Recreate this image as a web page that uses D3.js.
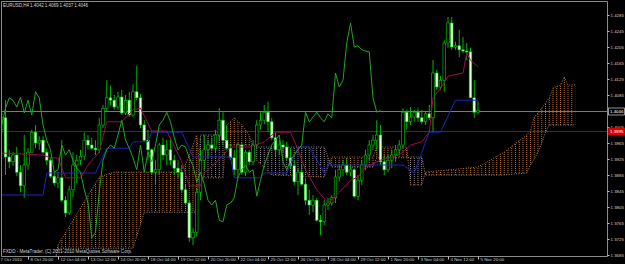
<!DOCTYPE html>
<html>
<head>
<meta charset="utf-8">
<script src="https://cdn.jsdelivr.net/npm/d3@7"></script>
<style>
  html, body { margin: 0; padding: 0; background: #000; }
  svg { display: block; }
  text { font-family: "Liberation Sans", Arial, sans-serif; }
</style>
</head>
<body>
<div id="chart"></div>
<script>
// EURUSD H4, 128 bars (index 0 .. 127)
const openP = [
  1.3998, 1.4028, 1.3930, 1.3918, 1.3935, 1.3892, 1.3858, 1.3910, 1.3942, 1.3992,
  1.3965, 1.3972, 1.3942, 1.3922, 1.3882, 1.3865, 1.3878, 1.3822, 1.3790, 1.3848,
  1.3910, 1.3922, 1.3932, 1.3972, 1.3960, 1.3952, 1.3948, 1.4010, 1.4052, 1.4078,
  1.4072, 1.4055, 1.4080, 1.4040, 1.4072, 1.4035, 1.4093, 1.4078, 1.4010, 1.3972,
  1.3948, 1.3892, 1.3898, 1.3960, 1.3935, 1.3948, 1.3922, 1.3902, 1.3892, 1.3848,
  1.3815, 1.3728, 1.3742, 1.3842, 1.3922, 1.3948, 1.3960, 1.3952, 1.3985, 1.4022,
  1.3972, 1.3952, 1.3928, 1.3898, 1.3960, 1.3892, 1.3942, 1.3918, 1.3960, 1.4010,
  1.4022, 1.4042, 1.4018, 1.3978, 1.3948, 1.3960, 1.3955, 1.3928, 1.3908, 1.3868,
  1.3892, 1.3862, 1.3822, 1.3810, 1.3822, 1.3772, 1.3768, 1.3810, 1.3815, 1.3828,
  1.3880, 1.3898, 1.3910, 1.3892, 1.3898, 1.3832, 1.3872, 1.3910, 1.3935, 1.3960,
  1.3972, 1.3985, 1.3918, 1.3898, 1.3922, 1.3935, 1.3948, 1.3960, 1.4042, 1.4018,
  1.4030, 1.4042, 1.4028, 1.4018, 1.4038, 1.4028, 1.4140, 1.4105, 1.4122, 1.4215,
  1.4265, 1.4205, 1.4208, 1.4198, 1.4195, 1.4193, 1.4078, 1.4042
];
const highP = [
  1.4042, 1.4072, 1.3948, 1.3942, 1.3955, 1.3910, 1.3985, 1.3952, 1.3998, 1.4010,
  1.3982, 1.3982, 1.3952, 1.3928, 1.3892, 1.3892, 1.3972, 1.3832, 1.3858, 1.3942,
  1.3935, 1.3948, 1.3992, 1.3985, 1.3978, 1.3972, 1.4028, 1.4060, 1.4122, 1.4108,
  1.4085, 1.4093, 1.4098, 1.4085, 1.4093, 1.4112, 1.4158, 1.4088, 1.4022, 1.3998,
  1.3952, 1.3922, 1.3965, 1.3978, 1.3972, 1.3978, 1.3935, 1.3922, 1.3910, 1.3860,
  1.3822, 1.3752, 1.3852, 1.3948, 1.3985, 1.3972, 1.3978, 1.3998, 1.4052, 1.4042,
  1.4010, 1.3960, 1.3948, 1.3965, 1.3965, 1.3948, 1.3948, 1.3972, 1.4022, 1.4042,
  1.4060, 1.4068, 1.4028, 1.3992, 1.3972, 1.3972, 1.3968, 1.3952, 1.3922, 1.3902,
  1.3910, 1.3878, 1.3848, 1.3835, 1.3828, 1.3785, 1.3822, 1.3828, 1.3835, 1.3898,
  1.3910, 1.3922, 1.3928, 1.3910, 1.3902, 1.3885, 1.3922, 1.3948, 1.3972, 1.3985,
  1.4022, 1.4010, 1.3935, 1.3935, 1.3948, 1.3960, 1.3972, 1.4052, 1.4048, 1.4055,
  1.4048, 1.4052, 1.4048, 1.4042, 1.4060, 1.4172, 1.4148, 1.4132, 1.4222, 1.4280,
  1.4280, 1.4218, 1.4248, 1.4230, 1.4215, 1.4203, 1.4122, 1.4069
];
const lowP = [
  1.3988, 1.3885, 1.3902, 1.3908, 1.3882, 1.3842, 1.3828, 1.3898, 1.3942, 1.3952,
  1.3948, 1.3938, 1.3910, 1.3878, 1.3858, 1.3852, 1.3818, 1.3780, 1.3785, 1.3830,
  1.3865, 1.3910, 1.3922, 1.3948, 1.3948, 1.3935, 1.3940, 1.4002, 1.4042, 1.4060,
  1.4048, 1.4048, 1.4035, 1.4035, 1.4030, 1.4030, 1.4072, 1.4002, 1.3968, 1.3922,
  1.3885, 1.3860, 1.3885, 1.3922, 1.3910, 1.3910, 1.3885, 1.3878, 1.3842, 1.3810,
  1.3718, 1.3710, 1.3732, 1.3822, 1.3898, 1.3928, 1.3948, 1.3942, 1.3972, 1.3960,
  1.3948, 1.3922, 1.3885, 1.3878, 1.3885, 1.3882, 1.3910, 1.3910, 1.3952, 1.3998,
  1.4012, 1.3992, 1.3972, 1.3932, 1.3935, 1.3942, 1.3922, 1.3902, 1.3860, 1.3835,
  1.3858, 1.3810, 1.3785, 1.3792, 1.3768, 1.3735, 1.3760, 1.3798, 1.3808, 1.3815,
  1.3868, 1.3882, 1.3885, 1.3882, 1.3828, 1.3822, 1.3860, 1.3898, 1.3922, 1.3948,
  1.3948, 1.3910, 1.3885, 1.3892, 1.3902, 1.3918, 1.3935, 1.3952, 1.3998, 1.4010,
  1.4018, 1.4018, 1.4012, 1.4010, 1.4022, 1.3992, 1.4098, 1.4098, 1.4093, 1.4203,
  1.4198, 1.4198, 1.4180, 1.4190, 1.4172, 1.4078, 1.4028, 1.4037
];
const closeP = [
  1.4028, 1.3930, 1.3918, 1.3935, 1.3892, 1.3858, 1.3910, 1.3942, 1.3992, 1.3965,
  1.3972, 1.3942, 1.3922, 1.3882, 1.3865, 1.3878, 1.3822, 1.3790, 1.3848, 1.3910,
  1.3922, 1.3932, 1.3972, 1.3960, 1.3952, 1.3948, 1.4010, 1.4052, 1.4078, 1.4072,
  1.4055, 1.4080, 1.4040, 1.4072, 1.4035, 1.4093, 1.4078, 1.4010, 1.3972, 1.3948,
  1.3892, 1.3898, 1.3960, 1.3935, 1.3948, 1.3922, 1.3902, 1.3892, 1.3848, 1.3815,
  1.3728, 1.3742, 1.3842, 1.3922, 1.3948, 1.3960, 1.3952, 1.3985, 1.4022, 1.3972,
  1.3952, 1.3928, 1.3898, 1.3960, 1.3892, 1.3942, 1.3918, 1.3960, 1.4010, 1.4022,
  1.4042, 1.4018, 1.3978, 1.3948, 1.3960, 1.3955, 1.3928, 1.3908, 1.3868, 1.3892,
  1.3862, 1.3822, 1.3810, 1.3822, 1.3772, 1.3768, 1.3810, 1.3815, 1.3828, 1.3880,
  1.3898, 1.3910, 1.3892, 1.3898, 1.3832, 1.3872, 1.3910, 1.3935, 1.3960, 1.3972,
  1.3985, 1.3918, 1.3898, 1.3922, 1.3935, 1.3948, 1.3960, 1.4042, 1.4018, 1.4030,
  1.4042, 1.4028, 1.4018, 1.4038, 1.4028, 1.4140, 1.4105, 1.4122, 1.4215, 1.4265,
  1.4205, 1.4208, 1.4198, 1.4195, 1.4193, 1.4078, 1.4042, 1.4046
];

// Ichimoku lines: [bar index, price]
const tenkan = [
  [0, 1.3940], [11, 1.3935], [13, 1.3928], [15, 1.3928], [17, 1.3878], [21, 1.3878],
  [23, 1.3910], [26, 1.3942], [28, 1.4018], [32, 1.4018], [35, 1.4048], [37, 1.4052],
  [40, 1.3995], [44, 1.3995], [48, 1.3918], [50, 1.3858], [53, 1.3858], [54, 1.3890],
  [57, 1.3915], [61, 1.3955], [66, 1.3955], [70, 1.3968], [73, 1.3992], [77, 1.3992],
  [79, 1.3948], [81, 1.3898], [84, 1.3848], [87, 1.3815], [90, 1.3842], [93, 1.3872],
  [95, 1.3880], [97, 1.3905], [101, 1.3922], [106, 1.3935], [109, 1.3960], [112, 1.3968],
  [114, 1.3992], [115, 1.4078], [117, 1.4102], [119, 1.4132], [123, 1.4140], [124, 1.4190],
  [125, 1.4172], [127, 1.4155]
];
const kijun = [
  [0, 1.3835], [11, 1.3835], [12, 1.3890], [25, 1.3890], [28, 1.3952], [34, 1.3952],
  [35, 1.3968], [39, 1.3968], [40, 1.3992], [48, 1.3992], [51, 1.3930], [61, 1.3930],
  [62, 1.3878], [69, 1.3878], [70, 1.3890], [76, 1.3890], [79, 1.3955], [82, 1.3955],
  [86, 1.3890], [87, 1.3910], [107, 1.3910], [110, 1.3890], [112, 1.3942], [114, 1.3992],
  [117, 1.3992], [121, 1.4072], [127, 1.4072]
];
// cloud, bar indices as drawn on screen (future bars go past 127)
const senkouBars = [0, 14, 15, 26, 30, 35, 38, 47, 49, 52, 53, 59, 60, 62, 64, 66, 68, 72, 86,
  88, 99, 100, 108, 109, 112, 113, 127, 134, 140, 141, 142, 143, 144, 145, 146, 147, 149, 150, 151, 153];
const senkouA = [1.3648, 1.3660, 1.3710, 1.3880, 1.3892, 1.3892, 1.3892, 1.3892, 1.3910, 1.3985,
  1.3878, 1.3878, 1.4010, 1.4028, 1.4010, 1.3985, 1.3922, 1.3885, 1.3880,
  1.3930, 1.3930, 1.3955, 1.3955, 1.3860, 1.3860, 1.3892, 1.3905, 1.3942, 1.3985, 1.3995,
  1.4030, 1.4040, 1.4052, 1.4065, 1.4078, 1.4102, 1.4110, 1.4130, 1.4110, 1.4110];
const senkouB = [1.3648, 1.3660, 1.3702, 1.3702, 1.3702, 1.3702, 1.3792, 1.3792, 1.3792, 1.3792,
  1.3985, 1.3985, 1.3960, 1.3960, 1.3960, 1.3960, 1.3955, 1.3955, 1.3955,
  1.3905, 1.3905, 1.3928, 1.3928, 1.3930, 1.3930, 1.3885, 1.3885, 1.3885, 1.3890, 1.3910,
  1.3925, 1.3942, 1.3965, 1.3992, 1.4010, 1.4010, 1.4010, 1.4010, 1.4010, 1.4010];

const priceTicks = [1.4285, 1.4245, 1.4205, 1.4165, 1.4125, 1.4085, 1.4005, 1.3965,
  1.3925, 1.3885, 1.3845, 1.3805, 1.3765, 1.3725, 1.3685];
const dateTicks = [-1, 7, 15, 23, 31, 39, 47, 55, 63, 71, 79, 87, 95, 103, 111, 119, 127];
const dateLabels = ["7 Oct 2010", "8 Oct 20:00", "12 Oct 04:00", "13 Oct 12:00", "14 Oct 20:00",
  "18 Oct 04:00", "19 Oct 12:00", "20 Oct 20:00", "22 Oct 04:00", "25 Oct 12:00", "26 Oct 20:00",
  "28 Oct 04:00", "29 Oct 12:00", "1 Nov 20:00", "3 Nov 04:00", "4 Nov 12:00", "5 Nov 20:00"];
const bidPrice = 1.4046;
const linePrice = 1.3995;

const width = 625, height = 264;
const plot = { left: 1.5, top: 1.5, right: 607.5, bottom: 256.5 };
const shift = 26;

const svg = d3.select("#chart").append("svg")
  .attr("width", width).attr("height", height)
  .style("background", "#000");

const x = d3.scaleLinear().domain([0, 127]).range([1.75, 478]);
const y = d3.scaleLinear().domain([1.3685, 1.4285]).range([255, 15]);

const defs = svg.append("defs");
defs.append("clipPath").attr("id", "plotclip").append("rect")
  .attr("x", plot.left).attr("y", plot.top)
  .attr("width", plot.right - plot.left).attr("height", plot.bottom - plot.top);

// dotted hatch patterns for the cloud
function hatch(id, color) {
  const p = defs.append("pattern").attr("id", id)
    .attr("patternUnits", "userSpaceOnUse")
    .attr("x", x(0) - 0.5).attr("y", 0)
    .attr("width", x(1) - x(0)).attr("height", 2);
  p.append("rect").attr("width", 1).attr("height", 1).attr("fill", color);
}
hatch("hatchA", "#b86e32");
hatch("hatchB", "#948a94");

const cloud = senkouBars.map((b, k) => ({ b, a: senkouA[k], s: senkouB[k] }));
const bLine = d3.line().x(d => x(d.b)).y(d => y(d.s));
// clip regions above / below senkou B
const bPath = bLine(cloud);
const xs = x(senkouBars[0]), xe = x(senkouBars[senkouBars.length - 1]);
defs.append("clipPath").attr("id", "aboveB").append("path")
  .attr("d", bPath + `L${xe},-10L${xs},-10Z`);
defs.append("clipPath").attr("id", "belowB").append("path")
  .attr("d", bPath + `L${xe},400L${xs},400Z`);

const g = svg.append("g").attr("clip-path", "url(#plotclip)");

const cloudArea = d3.area()
  .x(d => x(d.b)).y0(d => y(d.s)).y1(d => y(d.a));
g.append("g").attr("clip-path", "url(#aboveB)").append("path")
  .attr("d", cloudArea(cloud)).attr("fill", "url(#hatchA)");
g.append("g").attr("clip-path", "url(#belowB)").append("path")
  .attr("d", cloudArea(cloud)).attr("fill", "url(#hatchB)");

g.append("path").attr("d", d3.line().x(d => x(d.b)).y(d => y(d.a))(cloud))
  .attr("fill", "none").attr("stroke", "#b86e32").attr("stroke-width", 1)
  .attr("stroke-dasharray", "1,1.5");
g.append("path").attr("d", bPath)
  .attr("fill", "none").attr("stroke", "#948a94").attr("stroke-width", 1)
  .attr("stroke-dasharray", "1,1.5");

// horizontal lines
g.append("line").attr("x1", plot.left).attr("x2", plot.right)
  .attr("y1", Math.round(y(bidPrice)) + 0.5).attr("y2", Math.round(y(bidPrice)) + 0.5)
  .attr("stroke", "#7a7a7a").attr("stroke-width", 1);
g.append("line").attr("x1", plot.left).attr("x2", plot.right)
  .attr("y1", Math.round(y(linePrice)) + 0.5).attr("y2", Math.round(y(linePrice)) + 0.5)
  .attr("stroke", "#800a48").attr("stroke-width", 1);

// candles
const bars = d3.range(openP.length).map(i => ({
  i, o: openP[i], h: highP[i], l: lowP[i], c: closeP[i]
}));
const candle = g.append("g").selectAll("g").data(bars).join("g");
candle.append("line")
  .attr("x1", d => x(d.i)).attr("x2", d => x(d.i))
  .attr("y1", d => y(d.h)).attr("y2", d => y(d.l))
  .attr("stroke", "#00b400").attr("stroke-width", 1);
candle.append("rect")
  .attr("x", d => x(d.i) - 1.3).attr("width", 2.6)
  .attr("y", d => y(Math.max(d.o, d.c)))
  .attr("height", d => Math.max(1, Math.abs(y(d.o) - y(d.c))))
  .attr("fill", d => d.c >= d.o ? "#000" : "#eaffea")
  .attr("stroke", "#00d000").attr("stroke-width", 0.6);

// ichimoku lines
const kLine = d3.line().x(d => x(d[0])).y(d => y(d[1]));
g.append("path").attr("d", kLine(kijun)).attr("fill", "none")
  .attr("stroke", "#1a26c0").attr("stroke-width", 1);
g.append("path").attr("d", kLine(tenkan)).attr("fill", "none")
  .attr("stroke", "#9a1048").attr("stroke-width", 1);
const chikou = bars.filter(d => d.i >= shift);
g.append("path")
  .attr("d", d3.line().x(d => x(d.i - shift)).y(d => y(d.c))(chikou))
  .attr("fill", "none").attr("stroke", "#1ea81e").attr("stroke-width", 1);

// frame
svg.append("path")
  .attr("d", `M${plot.left},${plot.bottom}V${plot.top}H${plot.right}V${plot.bottom}H${plot.left}`)
  .attr("fill", "none").attr("stroke", "#8c8c8c").attr("stroke-width", 1);

// price axis
const yAxis = svg.append("g")
  .attr("transform", `translate(${plot.right},0)`)
  .call(d3.axisRight(y).tickValues(priceTicks).tickSize(2).tickPadding(1)
    .tickFormat(d3.format(".4f")));
yAxis.select(".domain").remove();
yAxis.selectAll("line").attr("stroke", "#c0c0c0");
yAxis.selectAll("text").attr("fill", "#d0d0d0").style("font-size", "4.4px");

// date axis
const xAxis = svg.append("g")
  .attr("transform", `translate(0,${plot.bottom})`)
  .call(d3.axisBottom(x).tickValues(dateTicks).tickSize(3)
    .tickFormat((d, k) => dateLabels[k]));
xAxis.select(".domain").remove();
xAxis.selectAll("line").attr("stroke", "#c0c0c0");
xAxis.selectAll("text").attr("fill", "#d0d0d0").style("font-size", "4.4px")
  .attr("text-anchor", "start").attr("dx", 2).attr("y", 1.5);

// price boxes
function priceBox(p, bg, border, color) {
  const yy = Math.round(y(p)) + 0.5;
  svg.append("rect").attr("x", plot.right + 1).attr("y", yy - 3.5)
    .attr("width", 16).attr("height", 7)
    .attr("fill", bg).attr("stroke", border).attr("stroke-width", 0.7);
  svg.append("text").attr("x", plot.right + 2.5).attr("y", yy + 1.6)
    .attr("fill", color).style("font-size", "4.4px").text(d3.format(".4f")(p));
}
priceBox(bidPrice, "#000", "#d0d0d0", "#ffffff");
priceBox(linePrice, "#e00000", "#e00000", "#ffffff");

// captions
svg.append("text").attr("x", 3).attr("y", 7.2).attr("fill", "#d0d0d0")
  .style("font-size", "4.6px").attr("textLength", 85)
  .text("EURUSD,H4  1.4042 1.4069 1.4037 1.4046");
svg.append("text").attr("x", 3).attr("y", 253).attr("fill", "#d0d0d0")
  .style("font-size", "4.6px").attr("textLength", 129)
  .text("FXDD - MetaTrader, (C) 2001-2010 MetaQuotes Software Corp.");
</script>
</body>
</html>
